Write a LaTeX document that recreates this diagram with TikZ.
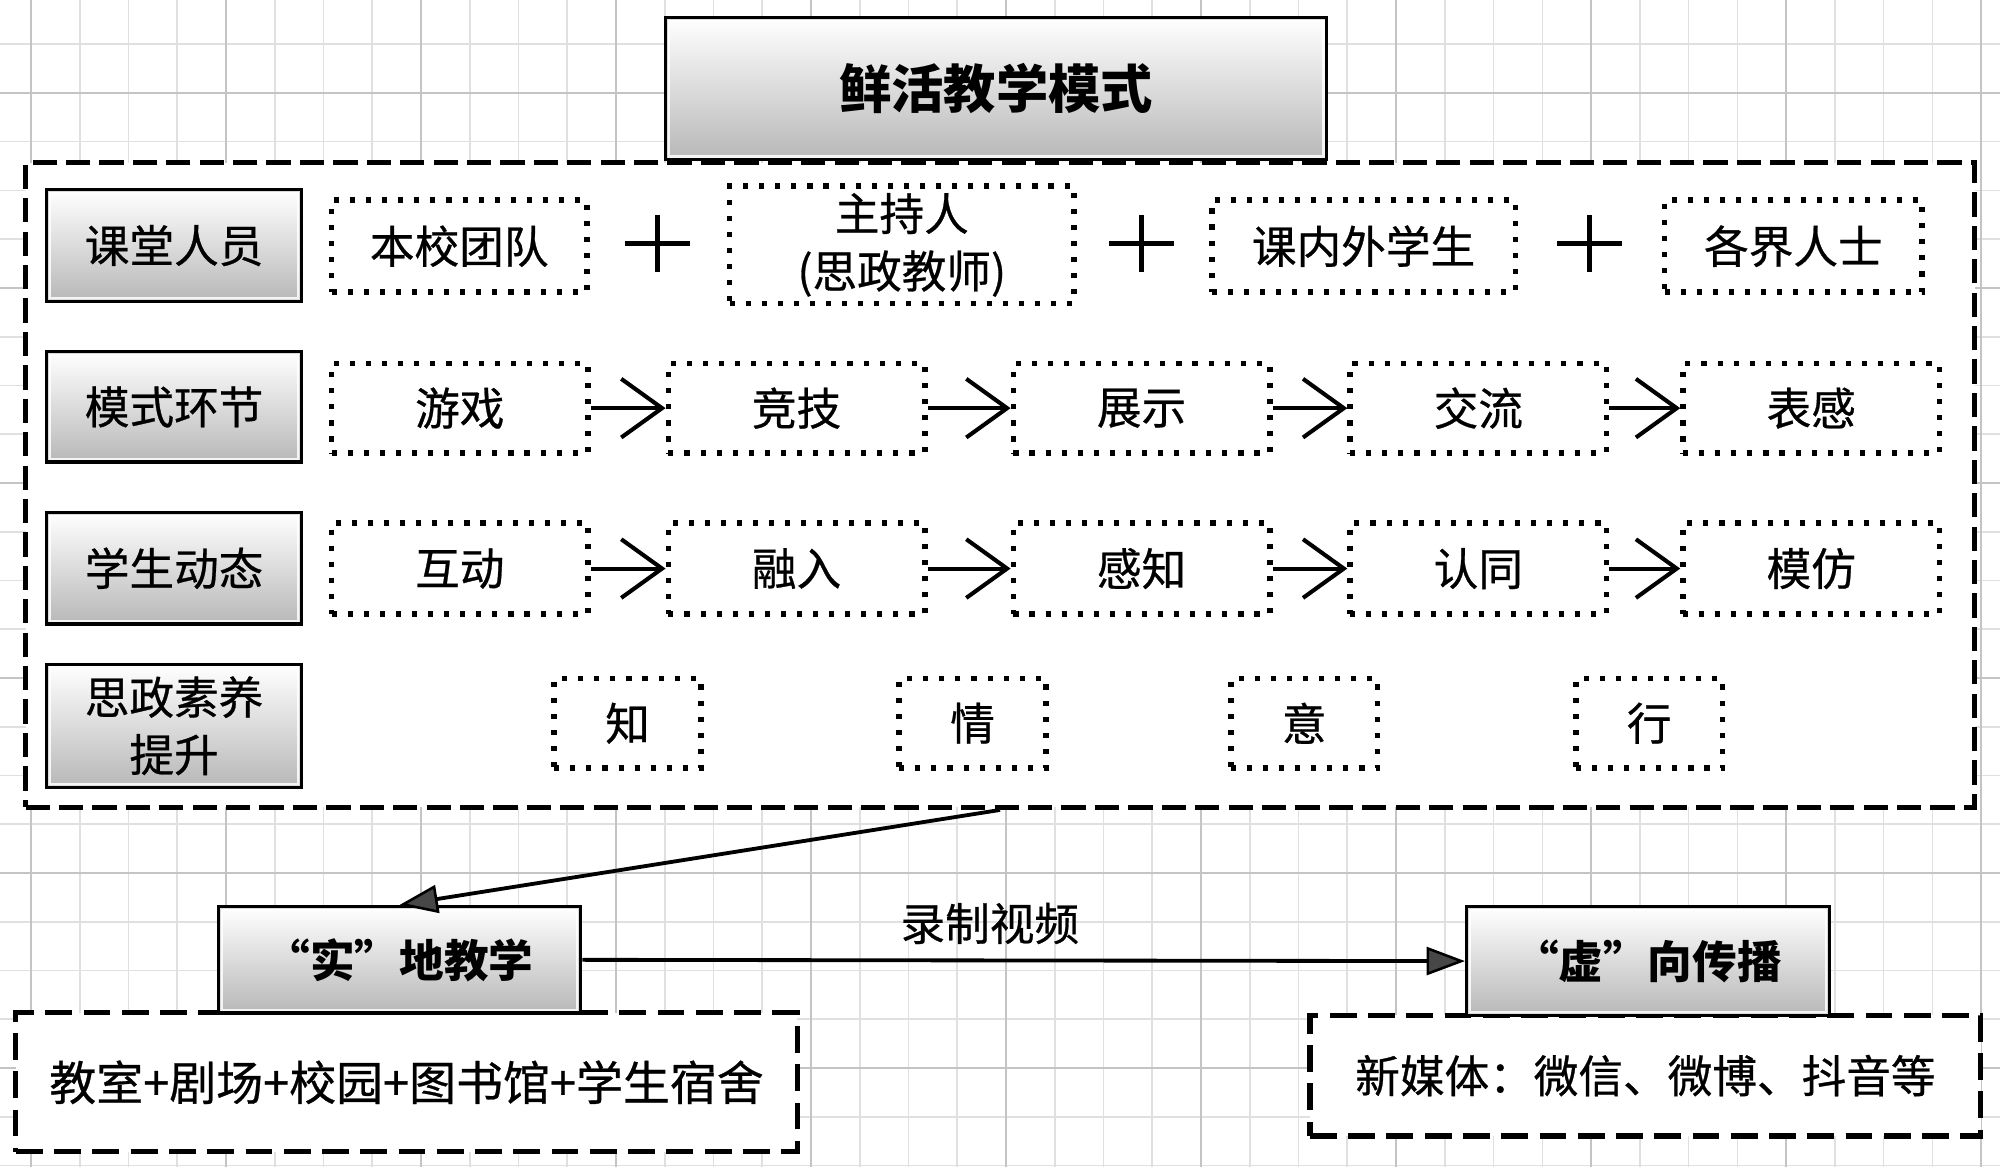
\documentclass[tikz,border=0pt]{standalone}
\usepackage{fontspec}
\newfontfamily\cjk{Noto Sans CJK SC}[RawFeature={embolden=0.6}]
\newfontfamily\cjkt{Noto Sans CJK SC}
\newfontfamily\cjkq{Noto Sans CJK SC}[RawFeature=+fwid]
\usetikzlibrary{arrows.meta}
\tikzset{
  gridminor/.style={line width=0.6pt, draw=black!12},
  gridmajor/.style={line width=1pt, draw=black!23},
  gbox/.style={draw=black, line width=1.5pt, top color=white, bottom color=black!28,
    inner sep=0pt, align=center, font=\cjk\fontsize{17.5}{22.5}\selectfont},
  gboxb/.style={gbox, font=\cjkq\bfseries\fontsize{17.5}{22.5}\selectfont},
  dotbox/.style={draw=black, line width=2.2pt, dash pattern=on 2pt off 4.3pt, fill=white,
    inner sep=0pt, align=center, font=\cjk\fontsize{17.5}{22.5}\selectfont},
  outerbox/.style={draw=black, line width=2pt, dash pattern=on 9.5pt off 3.6pt, fill=white, inner sep=0pt},
  lowbox/.style={draw=black, line width=2pt, dash pattern=on 10.5pt off 4.5pt, fill=white,
    inner sep=0pt, align=center, font=\cjk\fontsize{17.5}{22.5}\selectfont},
  rowarrow/.style={line width=1.6pt, -{Straight Barb[length=16pt,width=23pt,line width=1.6pt]}},
  fillarrow/.style={line width=1.5pt, -{Triangle[length=15pt,width=11pt,fill=black!72,line width=1pt]}},
  plussign/.style={line width=1.75pt, draw=black},
  rim/.style={draw=white, line width=1.1pt, opacity=0.85},
  lbl/.style={inner sep=0pt, font=\cjk\fontsize{17.5}{22.5}\selectfont}
}
\begin{document}
\begin{tikzpicture}[x=0.5pt,y=-0.5pt]
\useasboundingbox (0,0) rectangle (1568,915);
\fill[white] (0,0) rectangle (1568,915);
% background grid
\foreach \k in {0,...,40}{
  \pgfmathsetmacro\gx{24.3+38.22*\k}
  \draw[gridminor] (\gx,0) -- (\gx,915);
}
\foreach \k in {-1,...,22}{
  \pgfmathsetmacro\gy{72.9+38.22*\k}
  \draw[gridminor] (0,\gy) -- (1568,\gy);
}
\foreach \k in {0,4,...,40}{
  \pgfmathsetmacro\gx{24.3+38.22*\k}
  \draw[gridmajor] (\gx,0) -- (\gx,915);
}
\foreach \k in {0,4,...,20}{
  \pgfmathsetmacro\gy{72.9+38.22*\k}
  \draw[gridmajor] (0,\gy) -- (1568,\gy);
}
% outer dashed frame
\node[outerbox, minimum width=764pt, minimum height=252.75pt] (outer) at (784,380.25) {};
% title
\node[gbox, font=\cjkt\bfseries\fontsize{20.5}{24}\selectfont, minimum width=259pt, minimum height=55.5pt] (title) at (781,69.5) {鲜活教学模式};
% row labels
\node[gbox, minimum width=99.5pt, minimum height=43.5pt] (L1) at (136.5,192.5) {课堂人员};
\node[gbox, minimum width=99.5pt, minimum height=43pt] (L2) at (136.5,319) {模式环节};
\node[gbox, minimum width=99.5pt, minimum height=43.5pt] (L3) at (136.5,445.5) {学生动态};
\node[gbox, minimum width=99.5pt, minimum height=48pt] (L4) at (136.5,569) {思政素养\\提升};
% row 1
\node[dotbox, minimum width=100pt, minimum height=36pt] (p1) at (360,193) {本校团队};
\node[dotbox, minimum width=135pt, minimum height=46pt] (p2) at (707,192) {主持人\\(思政教师)};
\node[dotbox, minimum width=119pt, minimum height=36pt] (p3) at (1069,193) {课内外学生};
\node[dotbox, minimum width=101pt, minimum height=36pt] (p4) at (1406,193) {各界人士};
\foreach \px in {515.5,895,1246}{
  \draw[plussign] (\px-25.5,191) -- (\px+25.5,191);
  \draw[plussign] (\px,168.5) -- (\px,213.5);
}
% row 2
\foreach \n/\x/\t in {m1/360.5/游戏, m2/624.5/竞技, m3/895/展示, m4/1159/交流, m5/1420/表感}{
  \node[dotbox, minimum width=100.5pt, minimum height=35pt] (\n) at (\x,320) {\t};
}
% row 3
\foreach \n/\x/\t in {s1/360.5/互动, s2/624.5/融入, s3/895/感知, s4/1159/认同, s5/1420/模仿}{
  \node[dotbox, minimum width=100.5pt, minimum height=35.75pt] (\n) at (\x,445.75) {\t};
}
\foreach \a/\b in {m1/m2,m2/m3,m3/m4,m4/m5,s1/s2,s2/s3,s3/s4,s4/s5}{
  \draw[rowarrow] (\a.east) -- (\b.west);
}
% row 4
\foreach \n/\x/\t in {z1/492/知, z2/762.5/情, z3/1022.5/意, z4/1293/行}{
  \node[dotbox, minimum width=57.5pt, minimum height=35pt] (\n) at (\x,567) {\t};
}
% bottom part
\node[lowbox, font=\cjk\fontsize{18.4}{22.5}\selectfont, minimum width=306.25pt, minimum height=54.5pt] (shiD) at (318.75,848.5) {教室+剧场+校园+图书馆+学生宿舍};
\node[gboxb, minimum width=141.75pt, minimum height=41.5pt] (shi) at (313.25,752.5) {“实”地教学};
\node[lowbox, minimum width=263pt, minimum height=47.3pt] (xuD) at (1290,843.3) {新媒体：微信、微博、抖音等};
\node[gboxb, minimum width=142pt, minimum height=42.5pt] (xu) at (1292,753.5) {“虚”向传播};
\foreach \n in {title,L1,L2,L3,L4,shi,xu}{
  \draw[rim] ([xshift=1.8pt,yshift=-1.8pt]\n.north west) rectangle ([xshift=-1.8pt,yshift=1.8pt]\n.south east);
}
\draw[fillarrow] (outer.south) -- (shi.north);
\draw[fillarrow] (shi.east) -- (xu.west);
\node[lbl] (rec) at (776,724) {录制视频};
\end{tikzpicture}
\end{document}
